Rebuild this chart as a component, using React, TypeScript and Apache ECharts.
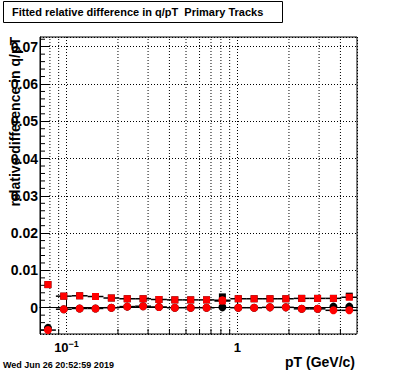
import React, { useEffect, useRef } from "react";
import * as echarts from "echarts";

// ---- data ----
const binEdges = [
  0.07, 0.0867, 0.1073, 0.1329, 0.1645, 0.2037, 0.2521, 0.3122, 0.3865, 0.4785,
  0.5925, 0.7335, 0.9082, 1.1245, 1.3922, 1.7237, 2.1341, 2.6422, 3.2714, 4.0503, 5.0,
];
const ptCenters = [
  0.0779, 0.0964, 0.1194, 0.1478, 0.183, 0.2266, 0.2806, 0.3474, 0.4301, 0.5325,
  0.6592, 0.8162, 1.0106, 1.2512, 1.5491, 1.918, 2.3747, 2.9401, 3.6401, 4.5068,
];
const redSquares = [
  0.0062, 0.0031, 0.0032, 0.003, 0.0026, 0.0024, 0.0024, 0.0022, 0.0021, 0.0021,
  0.0021, 0.0018, 0.0024, 0.0024, 0.0024, 0.0024, 0.0025, 0.0025, 0.0025, 0.0028,
];
const redCircles = [
  -0.006, -0.0004, -0.0002, -0.0002, 0.0, 0.0003, 0.0004, 0.0002, 0.0, 0.0,
  0.0, 0.002, 0.0, 0.0, 0.0001, 0.0001, -0.0003, -0.0003, -0.0007, -0.0007,
];
const blackSquares = [
  0.0062, 0.0031, 0.0032, 0.003, 0.0026, 0.0024, 0.0024, 0.0022, 0.0021, 0.0021,
  0.0021, 0.0029, 0.0024, 0.0024, 0.0024, 0.0024, 0.0025, 0.0025, 0.0025, 0.0031,
];
const blackCircles = [
  -0.0054, -0.0004, -0.0002, -0.0002, 0.0, 0.0003, 0.0004, 0.0002, 0.0, 0.0,
  0.0, 0.0001, 0.0, 0.0, 0.0001, 0.0001, -0.0003, -0.0003, 0.0003, 0.0003,
];
const squareBarsFrom = 1; // first square bin shows no horizontal bar
const xMinorTicks = [0.08, 0.09, 0.2, 0.3, 0.4, 0.5, 0.6, 0.7, 0.8, 0.9, 2, 3, 4];
const yMinorTicks = [
  -0.006, -0.004, -0.002, 0.002, 0.004, 0.006, 0.008, 0.012, 0.014, 0.016, 0.018,
  0.022, 0.024, 0.026, 0.028, 0.032, 0.034, 0.036, 0.038, 0.042, 0.044, 0.046, 0.048,
  0.052, 0.054, 0.056, 0.058, 0.062, 0.064, 0.066, 0.068, 0.072,
];
const X_MIN = 0.07;
const X_MAX = 5;
const Y_MIN = -0.00705;
const Y_MAX = 0.0726;

const titleText = "Fitted relative difference in q/pT  Primary Tracks";
const yTitle = "relative difference in q/pT";
const xTitle = "pT (GeV/c)";
const stamp = "Wed Jun 26 20:52:59 2019";

const FONT = '"Liberation Sans", Arial, Helvetica, sans-serif';

export default function App() {
  const ref = useRef<HTMLDivElement>(null);
  useEffect(() => {
    if (!ref.current) return;
    const chart = echarts.init(ref.current, undefined, { renderer: "svg" });

    const bars = (vals: number[], from: number) =>
      vals
        .map((v, i) => [binEdges[i], binEdges[i + 1], v])
        .filter((_, i) => i >= from);

    const marker = (name: string, symbol: string, size: number, color: string, z: number, vals: number[]) => ({
      type: "scatter",
      name,
      z,
      symbol,
      symbolSize: size,
      itemStyle: { color, opacity: 1 },
      emphasis: { disabled: true },
      data: ptCenters.map((x, i) => [x, vals[i]]),
    });

    const option: any = {
      animation: false,
      backgroundColor: "#fff",
      textStyle: { fontFamily: FONT },
      grid: {
        left: 40,
        top: 37,
        right: 39,
        bottom: 38,
        show: true,
        borderColor: "#000",
        borderWidth: 1,
        backgroundColor: "transparent",
        containLabel: false,
        outerBoundsMode: "none",
      },
      xAxis: {
        type: "log",
        logBase: 10,
        min: X_MIN,
        max: X_MAX,
        axisLine: { show: true, lineStyle: { color: "#000", width: 1 } },
        axisTick: { show: true, inside: true, length: 9, lineStyle: { color: "#000" } },
        splitLine: { show: true, lineStyle: { color: "#000", width: 1, type: [1, 2] } },
        minorTick: { show: false },
        axisLabel: {
          show: true,
          showMinLabel: false,
          showMaxLabel: false,
          margin: 5,
          color: "#000",
          formatter: (v: number) => {
            if (Math.abs(v - 0.1) < 1e-6) return "{b|10}{s|\u22121}";
            if (Math.abs(v - 1) < 1e-6) return "{b|1}";
            return "";
          },
          rich: {
            b: { fontSize: 13, fontWeight: "bold", color: "#000", fontFamily: FONT, lineHeight: 16 },
            s: { fontSize: 9, fontWeight: "bold", color: "#000", fontFamily: FONT, verticalAlign: "top", lineHeight: 10 },
          },
        },
      },
      yAxis: {
        type: "value",
        min: Y_MIN,
        max: Y_MAX,
        splitNumber: 8,
        axisLine: { show: true, lineStyle: { color: "#000", width: 1 } },
        axisTick: { show: true, inside: true, length: 9, lineStyle: { color: "#000" } },
        splitLine: { show: true, lineStyle: { color: "#000", width: 1, type: [1, 2] } },
        minorTick: { show: false },
        axisLabel: {
          show: true,
          showMinLabel: false,
          showMaxLabel: false,
          margin: 2,
          color: "#000",
          fontSize: 14,
          fontWeight: "bold",
          fontFamily: FONT,
        },
      },
      series: [
        {
          type: "custom",
          name: "xMinorGrid",
          z: 1,
          silent: true,
          encode: { x: 0, y: 1 },
          data: xMinorTicks.map((v) => [v, Y_MIN]),
          renderItem: (_p: any, api: any) => {
            const v = api.value(0);
            const a = api.coord([v, Y_MIN]);
            const b = api.coord([v, Y_MAX]);
            return {
              type: "group",
              children: [
                {
                  type: "line",
                  shape: { x1: a[0], y1: a[1], x2: b[0], y2: b[1] },
                  style: { stroke: "#000", lineWidth: 1, lineDash: [1, 2] },
                },
                {
                  type: "line",
                  shape: { x1: a[0], y1: a[1], x2: a[0], y2: a[1] - 5 },
                  style: { stroke: "#000", lineWidth: 1 },
                },
              ],
            };
          },
        },
        {
          type: "custom",
          name: "yMinorTicks",
          z: 1,
          silent: true,
          encode: { x: 0, y: 1 },
          data: yMinorTicks.map((v) => [X_MIN, v]),
          renderItem: (_p: any, api: any) => {
            const a = api.coord([X_MIN, api.value(1)]);
            return {
              type: "line",
              shape: { x1: a[0], y1: a[1], x2: a[0] + 5, y2: a[1] },
              style: { stroke: "#000", lineWidth: 1 },
            };
          },
        },
        {
          type: "custom",
          name: "bars",
          z: 3,
          silent: true,
          encode: { x: [0, 1], y: 2 },
          data: [...bars(redSquares, squareBarsFrom), ...bars(redCircles, 0)],
          renderItem: (_p: any, api: any) => {
            const a = api.coord([api.value(0), api.value(2)]);
            const b = api.coord([api.value(1), api.value(2)]);
            return {
              type: "line",
              shape: { x1: a[0], y1: a[1], x2: b[0], y2: b[1] },
              style: { stroke: "#000", lineWidth: 1.5 },
            };
          },
        },
        marker("black squares", "rect", 7, "#000000", 4, blackSquares),
        marker("black circles", "circle", 8, "#000000", 4, blackCircles),
        marker("red circles", "circle", 8, "#ff0000", 5, redCircles),
        marker("red squares", "rect", 7, "#ff0000", 6, redSquares),
      ],
      graphic: [
        {
          type: "rect",
          shape: { x: 3.5, y: 1.5, width: 279, height: 21 },
          style: { fill: "#fff", stroke: "#000", lineWidth: 1 },
        },
        {
          type: "text",
          x: 12,
          y: 12,
          style: {
            text: titleText,
            font: `bold 11px ${FONT}`,
            fill: "#000",
            textAlign: "left",
            textVerticalAlign: "middle",
            align: "left",
            verticalAlign: "middle",
          },
        },
        {
          type: "text",
          x: 15,
          y: 37,
          rotation: Math.PI / 2,
          style: {
            text: yTitle,
            font: `bold 14px ${FONT}`,
            fill: "#000",
            textAlign: "right",
            textVerticalAlign: "middle",
            align: "right",
            verticalAlign: "middle",
          },
        },
        {
          type: "text",
          x: 355,
          y: 362,
          style: {
            text: xTitle,
            font: `bold 14px ${FONT}`,
            fill: "#000",
            textAlign: "right",
            textVerticalAlign: "middle",
            align: "right",
            verticalAlign: "middle",
          },
        },
        {
          type: "text",
          x: 3,
          y: 365,
          style: {
            text: stamp,
            font: `bold 9px ${FONT}`,
            fill: "#000",
            textAlign: "left",
            textVerticalAlign: "middle",
            align: "left",
            verticalAlign: "middle",
          },
        },
      ],
    };
    chart.setOption(option);
    return () => chart.dispose();
  }, []);
  return <div ref={ref} style={{ width: 396, height: 372, position: "absolute", left: 0, top: 0 }} />;
}
